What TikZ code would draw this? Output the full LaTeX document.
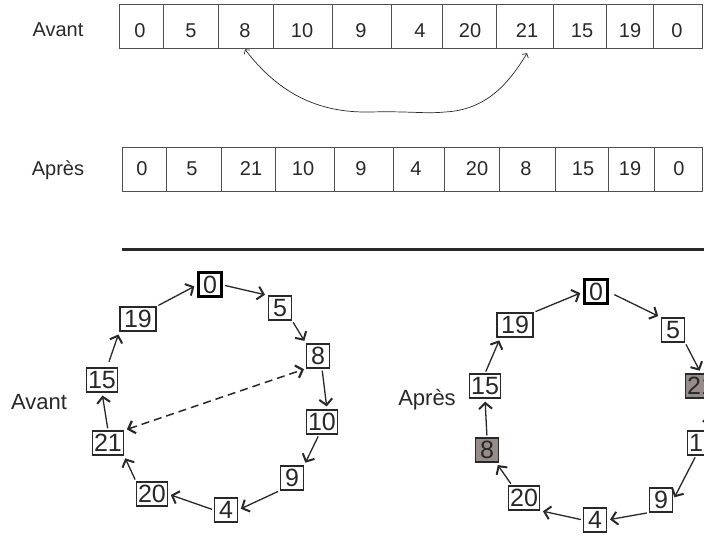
\documentclass[tikz,border=0pt]{standalone}
\usepackage{fontspec}
\setmainfont{Liberation Sans}
\usetikzlibrary{arrows.meta}
\definecolor{inkgray}{RGB}{40,40,40}
\definecolor{linegray}{RGB}{80,80,80}
\definecolor{swapfill}{RGB}{152,140,136}

\tikzset{
  cellline/.style={draw=linegray, line width=0.9pt},
  cellnum/.style={inner sep=0pt, anchor=base, text=inkgray, font=\fontsize{20}{24}\selectfont},
  toplabel/.style={inner sep=0pt, anchor=base, text=inkgray, font=\fontsize{20}{24}\selectfont},
  ringlabel/.style={inner sep=0pt, anchor=base, text=inkgray, font=\fontsize{22}{26}\selectfont},
  ringbox/.style={draw=inkgray, line width=1.2pt, fill=white, inner xsep=1.5pt, inner ysep=2.5pt,
    minimum width=23pt, minimum height=24pt, text=inkgray, font=\fontsize{25}{28}\selectfont},
  startbox/.style={ringbox, draw=black, line width=3pt},
  swapbox/.style={ringbox, fill=swapfill},
  widebox/.style={ringbox, minimum width=36pt},
  ringarrow/.style={-{Straight Barb[length=6pt,width=13pt,line width=2pt]}, line width=1.3pt,
    draw=inkgray, shorten >=3pt, shorten <=2pt},
  swaparrow/.style={{Straight Barb[length=3pt,width=7pt]}-{Straight Barb[length=3pt,width=7pt]},
    line width=0.7pt, draw=inkgray},
  dasharrow/.style={{Straight Barb[length=6pt,width=13pt,line width=2.2pt]}-{Straight Barb[length=6pt,width=13pt,line width=2.2pt]},
    line width=1.5pt, draw=inkgray, dash pattern=on 8pt off 5pt, shorten >=2pt, shorten <=3pt}
}

\begin{document}
\begin{tikzpicture}[x=1pt, y=-1pt]
    \clip (0,0) rectangle (704,537);

    % Array before the swap
    \node[toplabel] (avantrow) at (58,37) {Avant};
    \foreach \l/\r/\t/\c [count=\i] in {119/163/0/140, 163/218/5/191, 218/273/8/245,
        273/332/10/302, 332/391/9/361, 391/442/4/420, 442/496/20/470, 496/553/21/527,
        553/606/15/582, 606/653/19/630, 653/702/0/677}{
        \draw[cellline] (\l,4) rectangle (\r,48);
        \node[cellnum] (av\i) at (\c,38) {\t};
    }

    % Swap of 8 and 21
    \draw[swaparrow] ([yshift=-11pt]av3.south) .. controls (280,95) and (320,113) .. (370,112)
        .. controls (410,111) and (425,114) .. (445,112)
        .. controls (485,110) and (508,85) .. ([yshift=-15pt]av8.south);

    % Array after the swap
    \node[toplabel] (apresrow) at (58,176) {Après};
    \foreach \l/\r/\t/\c [count=\i] in {122/166/0/142, 166/221/5/192, 221/275/21/251,
        275/334/10/303, 334/393/9/361, 393/444/4/416, 444/499/20/477, 499/555/8/526,
        555/608/15/583, 608/654/19/630, 654/702/0/679}{
        \draw[cellline] (\l,147) rectangle (\r,191);
        \node[cellnum] (ap\i) at (\c,176) {\t};
    }

    % Separator
    \draw[line width=3pt, inkgray] (122,250) -- (710,250);

    % Tour before
    \node[ringlabel] (avantring) at (39,409) {Avant};
    \node[startbox] (z0) at (210,285) {0};
    \node[ringbox] (z5) at (280,308) {5};
    \node[ringbox] (z8) at (318,356) {8};
    \node[ringbox] (z10) at (322,422) {10};
    \node[ringbox] (z9) at (292,478) {9};
    \node[ringbox] (z4) at (226,510) {4};
    \node[ringbox] (z20) at (152,494) {20};
    \node[ringbox] (z21) at (108,443) {21};
    \node[ringbox] (z15) at (102,380) {15};
    \node[widebox] (z19) at (138,319) {19};

    \draw[ringarrow] (z0.east) -- (z5.north west);
    \draw[ringarrow] (z5.south east) -- (z8.north west);
    \draw[ringarrow] ([xshift=4pt]z8.south) -- ([xshift=5pt]z10.north);
    \draw[ringarrow] ([xshift=-3pt]z10.south) -- (z9.north east);
    \draw[ringarrow] (z9.south west) -- (z4.east);
    \draw[ringarrow] (z4.west) -- (z20.east);
    \draw[ringarrow] (z20.north west) -- (z21.south east);
    \draw[ringarrow] (z21.north) -- (z15.south);
    \draw[ringarrow, shorten <=6pt] ([xshift=5pt]z15.north) -- (z19.south west);
    \draw[ringarrow] (z19.north east) -- (z0.west);
    \draw[dasharrow] (z21.north east) -- (z8.south west);

    % Tour after
    \node[ringlabel] (apresring) at (427,405) {Après};
    \node[startbox] (y0) at (596,292) {0};
    \node[ringbox] (y5) at (673,330) {5};
    \node[swapbox] (y21) at (701,386) {21};
    \node[ringbox] (y10) at (703,443) {10};
    \node[ringbox] (y9) at (661,500) {9};
    \node[ringbox] (y4) at (595,520) {4};
    \node[ringbox] (y20) at (524,498) {20};
    \node[swapbox] (y8) at (487,450) {8};
    \node[ringbox] (y15) at (485,386) {15};
    \node[widebox] (y19) at (515,325) {19};

    \draw[ringarrow, shorten <=6pt] (y0.east) -- (y5.north west);
    \draw[ringarrow] (y5.south east) -- (y21.north);
    \draw[ringarrow] ([xshift=7pt]y21.south) -- ([xshift=7pt]y10.north);
    \draw[ringarrow] ([xshift=-7pt]y10.south) -- (y9.east);
    \draw[ringarrow] (y9.south west) -- (y4.east);
    \draw[ringarrow] (y4.west) -- (y20.south east);
    \draw[ringarrow] ([xshift=-12pt]y20.north) -- ([xshift=-3pt]y8.south east);
    \draw[ringarrow] (y8.north) -- (y15.south);
    \draw[ringarrow] (y15.north) -- ([xshift=4pt]y19.south west);
    \draw[ringarrow] (y19.north east) -- (y0.west);
\end{tikzpicture}
\end{document}
